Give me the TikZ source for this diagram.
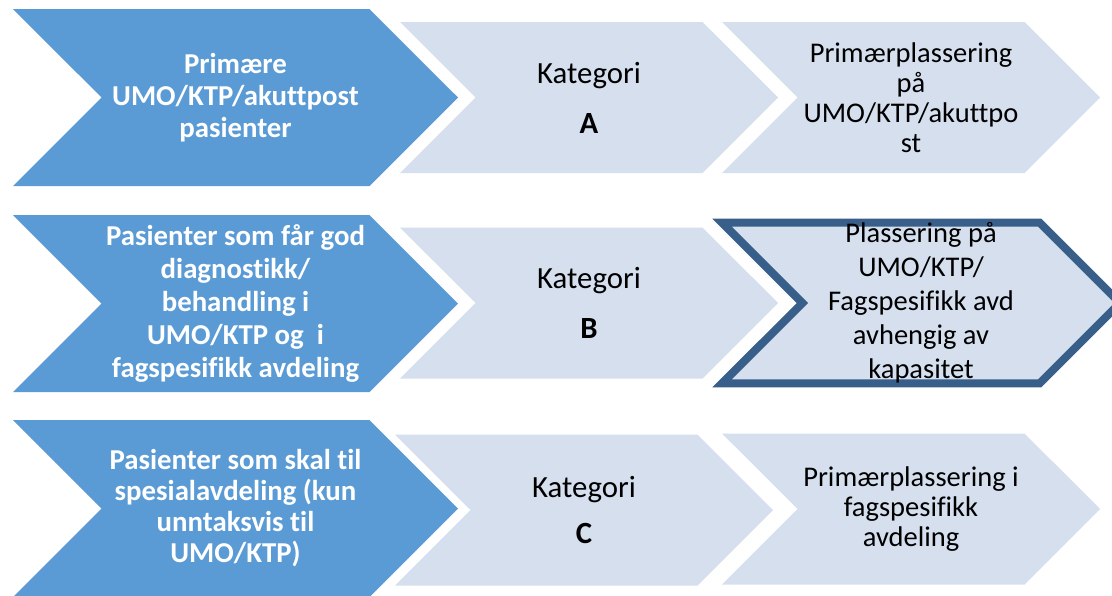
\documentclass[tikz,border=0pt]{standalone}
\usepackage{fontspec}
\setmainfont{Carlito}[Ligatures=NoCommon]
\usepackage{xcolor}
\usetikzlibrary{shapes.symbols}

\definecolor{srcblue}{RGB}{91,155,213}
\definecolor{catlight}{RGB}{213,223,238}
\definecolor{plcedge}{RGB}{56,94,138}

\begin{document}
\begin{tikzpicture}[
  x=1pt, y=-1pt,
  chev/.style={shape=signal, signal from=west, signal to=east, signal pointer angle=90, inner sep=0pt, align=center},
  src/.style={chev, fill=srcblue, text=white, font=\fontsize{28.8}{32}\selectfont\bfseries, minimum width=445pt, minimum height=177pt},
  cat/.style={chev, fill=catlight, font=\fontsize{30.8}{36}\selectfont, minimum width=378pt, minimum height=151pt},
  plc/.style={chev, fill=catlight, font=\fontsize{28.5}{30}\selectfont, minimum width=378pt, minimum height=151pt}
]
\clip (0,0) rectangle (1112,595);
\fill[white] (0,0) rectangle (1112,595);

% row A
\node[src] (srcA) at (235.5,97.5) {Primære\\UMO/KTP/akuttpost\\pasienter};
\node[cat] (catA) at (589,97.5) {Kategori\\[14pt]\textbf{A}};
\node[plc] (plcA) at (911,97.5) {Primærplassering\\på\\UMO/KTP/akuttpo\\st};

% row B
\node[src, font=\fontsize{28.8}{33}\selectfont\bfseries] (srcB) at (235.5,303.5)
  {Pasienter som får god\\diagnostikk/\\behandling i\\UMO/KTP og\ \ i\\fagspesifikk avdeling};
\node[cat] (catB) at (589,303) {Kategori\\[14pt]\textbf{B}};
\node[plc, draw=plcedge, line width=8pt, minimum width=398pt, font=\fontsize{28.5}{34}\selectfont] (plcB) at (921,303)
  {Plassering på\\UMO/KTP/\\Fagspesifikk avd\\avhengig av\\kapasitet};

% row C
\node[src, font=\fontsize{28.8}{31}\selectfont\bfseries] (srcC) at (235.5,508.5)
  {Pasienter som skal til\\spesialavdeling (kun\\unntaksvis til\\UMO/KTP)};
\node[cat] (catC) at (584,510) {Kategori\\[10pt]\textbf{C}};
\node[plc] (plcC) at (911,509) {Primærplassering i\\fagspesifikk\\avdeling};
\end{tikzpicture}
\end{document}
